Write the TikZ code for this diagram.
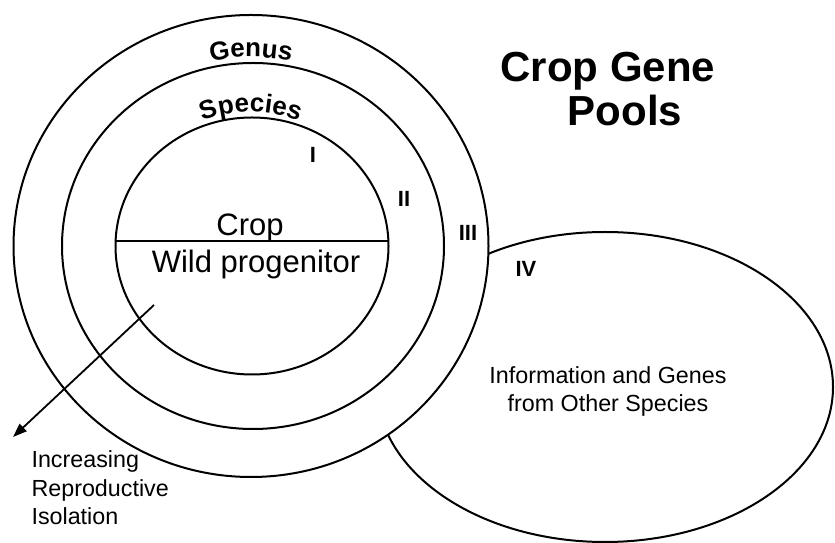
\documentclass[tikz,border=0pt]{standalone}
\usepackage{fontspec}
\setmainfont{Liberation Sans}
\usetikzlibrary{arrows.meta, shapes.geometric, decorations.text, positioning}
\newcommand\arcfont{\fontsize{26}{30}\selectfont\bfseries}
\tikzset{
	every node/.style={
		font=\fontsize{23.3}{28.5}\selectfont
	},
	ring/.style={
		shape=ellipse,
		draw,
		fill=white,
		line width=2pt,
		inner sep=0pt
	},
	numeral/.style={
		font=\fontsize{22}{26}\selectfont\bfseries
	},
	halves/.style={
		anchor=base,
		font=\fontsize{31}{36}\selectfont
	},
	heading/.style={
		anchor=base,
		font=\fontsize{42}{48}\selectfont\bfseries
	},
	arc text/.style={
		decorate,
		decoration={text along path, text align=center, text={|\arcfont|#1}}
	}
}

\begin{document}
\begin{tikzpicture}[x=1pt, y=1pt]
	\useasboundingbox (0,0) rectangle (835,543);
	
	% other species, behind the rings
	\node[ring, minimum width=456pt, minimum height=310pt] (other) at (605,156) {};
	
	% gene pools
	\node[ring, minimum width=475pt, minimum height=462pt] (genus) at (251,297) {};
	\node[ring, minimum width=382pt, minimum height=366pt] (species) at (253,297) {};
	\node[ring, minimum width=273pt, minimum height=257pt] (crop) at (252,297) {};
	\draw[line width=2pt] (crop.178) -- (crop.2);
	
	\path[arc text=Genus] (genus.center) ++(125:189) arc[start angle=125, end angle=55, radius=189];
	\path[arc text=Species] (genus.center) ++(125:134) arc[start angle=125, end angle=55, radius=134];
	
	\node[numeral] (one) at (313,388) {I};
	\node[numeral] (two) at (404,344) {II};
	\node[numeral] (three) at (468,310) {III};
	\node[numeral] (four) at (526,274) {IV};
	
	\node[halves] (croptext) at (250,307) {Crop};
	\node[halves] (wild) at (256,270) {Wild progenitor};
	
	\node[heading] (title) at (608,461) {Crop Gene};
	\node[heading] (title2) at (625,417) {Pools};
	
	\node[align=center, anchor=base] (info) at (608,131) {Information and Genes\\from Other Species};
	
	% reproductive isolation
	\coordinate (from) at (154,238);
	\coordinate (to) at (13,106);
	\draw[line width=1.8pt, -{Triangle[length=14pt, width=10pt]}] (from) -- (to);
	\node[align=left, anchor=base west] (isolation) at (28,18) {Increasing\\Reproductive\\Isolation};
	
\end{tikzpicture}
\end{document}
